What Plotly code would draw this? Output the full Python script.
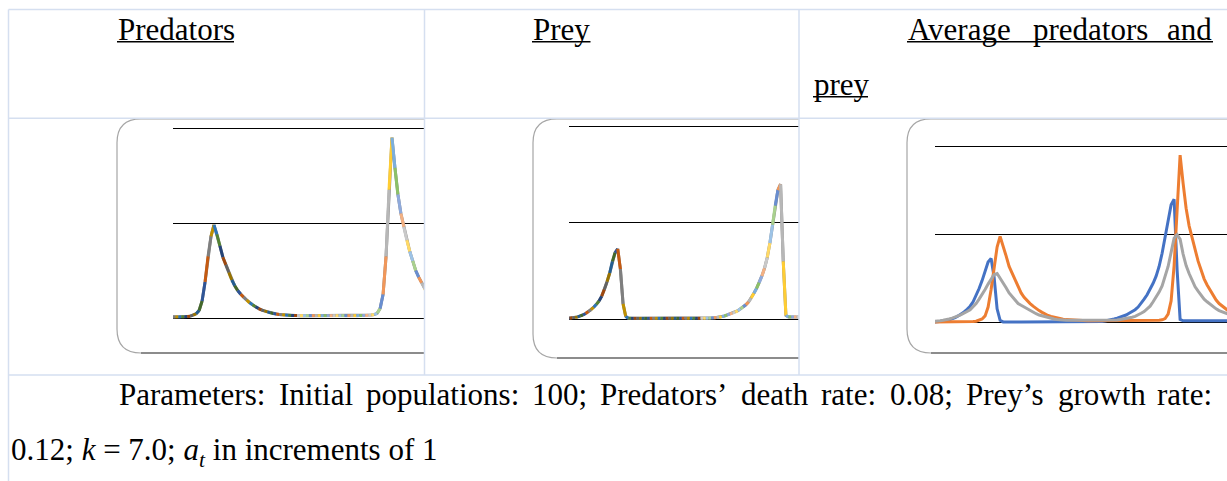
import plotly.graph_objects as go

# ---------------- data (gridline units; one point per time step) ----------------
predators = [
    0.010, 0.010, 0.010, 0.010, 0.010, 0.010, 0.010, 0.010, 0.011, 0.012,
    0.012, 0.013, 0.014, 0.016, 0.020, 0.030, 0.045, 0.080, 0.180, 0.380,
    0.650, 0.860, 0.980, 0.880, 0.760, 0.640, 0.560, 0.480, 0.400, 0.340,
    0.290, 0.250, 0.220, 0.190, 0.160, 0.140, 0.120, 0.100, 0.085, 0.075,
    0.065, 0.055, 0.048, 0.042, 0.038, 0.035, 0.032, 0.030, 0.028, 0.027,
    0.026, 0.025, 0.025, 0.025, 0.025, 0.025, 0.025, 0.025, 0.025, 0.025,
    0.025, 0.025, 0.025, 0.025, 0.025, 0.025, 0.025, 0.025, 0.025, 0.025,
    0.025, 0.026, 0.027, 0.028, 0.030, 0.032, 0.036, 0.050, 0.100, 0.250,
    0.650, 1.350, 1.900, 1.580, 1.300, 1.100, 0.960, 0.820, 0.700, 0.600,
    0.500, 0.430, 0.370, 0.310, 0.260, 0.220, 0.190, 0.165, 0.140,
]
prey = [
    0.010, 0.012, 0.015, 0.020, 0.025, 0.035, 0.045, 0.060, 0.080, 0.100,
    0.125, 0.155, 0.190, 0.240, 0.310, 0.390, 0.480, 0.600, 0.690, 0.730,
    0.520, 0.160, 0.030, 0.012, 0.010, 0.010, 0.010, 0.010, 0.010, 0.010,
    0.010, 0.010, 0.010, 0.010, 0.010, 0.010, 0.010, 0.010, 0.010, 0.010,
    0.010, 0.010, 0.010, 0.010, 0.010, 0.010, 0.010, 0.010, 0.010, 0.010,
    0.010, 0.010, 0.011, 0.012, 0.013, 0.015, 0.018, 0.022, 0.028, 0.035,
    0.045, 0.055, 0.065, 0.075, 0.090, 0.110, 0.130, 0.150, 0.180, 0.220,
    0.270, 0.320, 0.380, 0.450, 0.530, 0.640, 0.790, 0.980, 1.180, 1.340,
    1.400, 0.600, 0.040, 0.025, 0.025, 0.025, 0.025, 0.025, 0.025, 0.025,
    0.025, 0.025, 0.025, 0.025, 0.025, 0.025, 0.025, 0.025, 0.025,
]
average = [
    0.020, 0.020, 0.025, 0.030, 0.035, 0.045, 0.055, 0.065, 0.080, 0.095,
    0.110, 0.130, 0.150, 0.180, 0.220, 0.270, 0.320, 0.380, 0.440, 0.500,
    0.550, 0.560, 0.510, 0.450, 0.400, 0.340, 0.300, 0.260, 0.220, 0.200,
    0.180, 0.160, 0.140, 0.120, 0.105, 0.090, 0.080, 0.070, 0.060, 0.050,
    0.045, 0.040, 0.035, 0.030, 0.030, 0.030, 0.030, 0.030, 0.030, 0.030,
    0.030, 0.030, 0.030, 0.030, 0.030, 0.030, 0.030, 0.030, 0.030, 0.030,
    0.030, 0.035, 0.040, 0.045, 0.050, 0.060, 0.065, 0.075, 0.090, 0.110,
    0.130, 0.160, 0.190, 0.240, 0.290, 0.350, 0.420, 0.520, 0.640, 0.800,
    0.960, 1.000, 0.950, 0.780, 0.650, 0.560, 0.480, 0.410, 0.360, 0.310,
    0.270, 0.240, 0.210, 0.190, 0.160, 0.140, 0.125, 0.110, 0.100,
]
time_steps = list(range(len(predators)))
gridline_values = [0, 1, 2]

header_titles = ["Predators", "Prey", "Average predators and", "prey"]
caption_line1 = ["Parameters:", "Initial", "populations:", "100;", "Predators’", "death",
                 "rate:", "0.08;", "Prey’s", "growth", "rate:"]
caption_line2 = "0.12; <i>k</i> = 7.0; <i>a<sub>t</sub></i> in increments of 1"

# ---------------- styling ----------------
W, H = 1227, 481
def X(px): return px / W
def Y(py): return 1 - py / H

FONT = "Liberation Serif"
FS = 31
BORDER = "#d5dff0"

dark = ['#264478', '#9E480E', '#636363', '#997300', '#255E91', '#43682B']
dark2 = ['#2F5597', '#C55A11', '#7F7F7F', '#BF9000', '#2E75B6', '#548235']
light = ['#8FAADC', '#F4B183', '#C9C9C9', '#FFD966', '#9DC3E6', '#A9D18E']
light2 = ['#698ED0', '#F1975A', '#B7B7B7', '#FFCD33', '#7CAFDD', '#8CC168']

def seg_color(i):
    if i < 50:
        pal = dark if (i // 6) % 2 == 0 else dark2
    else:
        pal = light if (i // 6) % 2 == 0 else light2
    return pal[i % 6]

fig = go.Figure()

charts = [
    dict(n="", xd=(173, 424), yd=(119, 353), xr=(8.19, 92.79), yr=(-0.368, 2.095)),
    dict(n="2", xd=(569, 799), yd=(119, 358), xr=(0.75, 86.9), yr=(-0.401, 2.076)),
    dict(n="3", xd=(935, 1227), yd=(119, 353), xr=(0.3, 97.63), yr=(-0.34, 2.31)),
]

layout_axes = {}
for c in charts:
    n = c["n"]
    layout_axes["xaxis" + n] = dict(domain=[X(c["xd"][0]), X(c["xd"][1])], range=list(c["xr"]),
                                    visible=False, anchor="y" + n, fixedrange=True)
    layout_axes["yaxis" + n] = dict(domain=[Y(c["yd"][1]), Y(c["yd"][0])], range=list(c["yr"]),
                                    anchor="x" + n, tickvals=gridline_values, showticklabels=False,
                                    showgrid=True, gridcolor="black", gridwidth=1, zeroline=False,
                                    showline=False, ticks="", fixedrange=True)

def mottled(values, n):
    xa, ya = "x" + n, "y" + n
    fig.add_trace(go.Scatter(x=time_steps, y=values, mode="lines", xaxis=xa, yaxis=ya,
                             line=dict(color="#8a8a8a", width=3), hoverinfo="skip", showlegend=False))
    for i in range(len(values) - 1):
        fig.add_trace(go.Scatter(x=time_steps[i:i + 2], y=values[i:i + 2], mode="lines",
                                 xaxis=xa, yaxis=ya, line=dict(color=seg_color(i), width=3),
                                 hoverinfo="skip", showlegend=False))

mottled(predators, "")
mottled(prey, "2")

for vals, col in [(prey, "#4472C4"), (predators, "#ED7D31"), (average, "#A5A5A5")]:
    fig.add_trace(go.Scatter(x=time_steps, y=vals, mode="lines", xaxis="x3", yaxis="y3",
                             line=dict(color=col, width=3), hoverinfo="skip", showlegend=False))

shapes = []
def line(x0, y0, x1, y1, color, width):
    shapes.append(dict(type="line", xref="paper", yref="paper", x0=X(x0), y0=Y(y0),
                       x1=X(x1), y1=Y(y1), line=dict(color=color, width=width)))

# chart frames (rounded, clipped on the right by the table cell)
def frame(l, t, b, r, rad=24):
    p = (f"M {X(r)},{Y(t)} L {X(l + rad)},{Y(t)} Q {X(l)},{Y(t)} {X(l)},{Y(t + rad)} "
         f"L {X(l)},{Y(b - rad)} Q {X(l)},{Y(b)} {X(l + rad)},{Y(b)} L {X(r)},{Y(b)}")
    shapes.append(dict(type="path", xref="paper", yref="paper", path=p,
                       line=dict(color="#a6a6a6", width=1.2)))
    line(l + rad, b, r, b, "#8c8c8c", 2)

frame(117, 118.8, 353, 424)
frame(533, 118.8, 358, 799)
frame(907, 118.8, 353, 1260)

# table borders
line(8.5, 9.5, 1227, 9.5, BORDER, 1.5)
line(8.5, 9.5, 8.5, 481, BORDER, 1.5)
line(424.5, 9.5, 424.5, 375, BORDER, 1.5)
line(799, 9.5, 799, 375, BORDER, 1.5)
line(8.5, 118.3, 1227, 118.3, BORDER, 1.5)
line(8.5, 375, 1227, 375, BORDER, 1.5)

# underlines of the header titles
line(117, 41.8, 234, 41.8, "black", 1.5)
line(532, 41.8, 590.5, 41.8, "black", 1.5)
line(907, 41.8, 1213, 41.8, "black", 1.5)
line(813, 96.8, 868, 96.8, "black", 1.5)

annotations = []
def text(s, x, baseline, anchor="left"):
    annotations.append(dict(text=s, xref="paper", yref="paper", x=X(x), y=Y(baseline - 27.6),
                            xanchor=anchor, yanchor="top", showarrow=False, borderpad=0,
                            font=dict(family=FONT, size=FS, color="black")))

text(header_titles[0], 117, 38.3)
text(header_titles[1], 532, 38.3)
hw = header_titles[2].split()
text(hw[0], 907, 38.3)
text(hw[1], 1032.4, 38.3)
text(hw[2], 1213, 38.3, anchor="right")
text(header_titles[3], 813, 93.3)

word_x = [118, 277.5, 364.7, 531.2, 599.4, 740.0, 820.3, 888.5, 964.5, 1056.9]
for w, xx in zip(caption_line1[:-1], word_x):
    text(w, xx, 403.8)
text(caption_line1[-1], 1213, 403.8, anchor="right")
text(caption_line2, 10, 458.8)

fig.update_layout(width=W, height=H, autosize=False, margin=dict(l=0, r=0, t=0, b=0, pad=0),
                  paper_bgcolor="white", plot_bgcolor="rgba(0,0,0,0)", showlegend=False,
                  shapes=shapes, annotations=annotations, **layout_axes)

fig.write_html("out.html", config={"displayModeBar": False, "staticPlot": True},
               post_script="document.body.style.margin='0';")
